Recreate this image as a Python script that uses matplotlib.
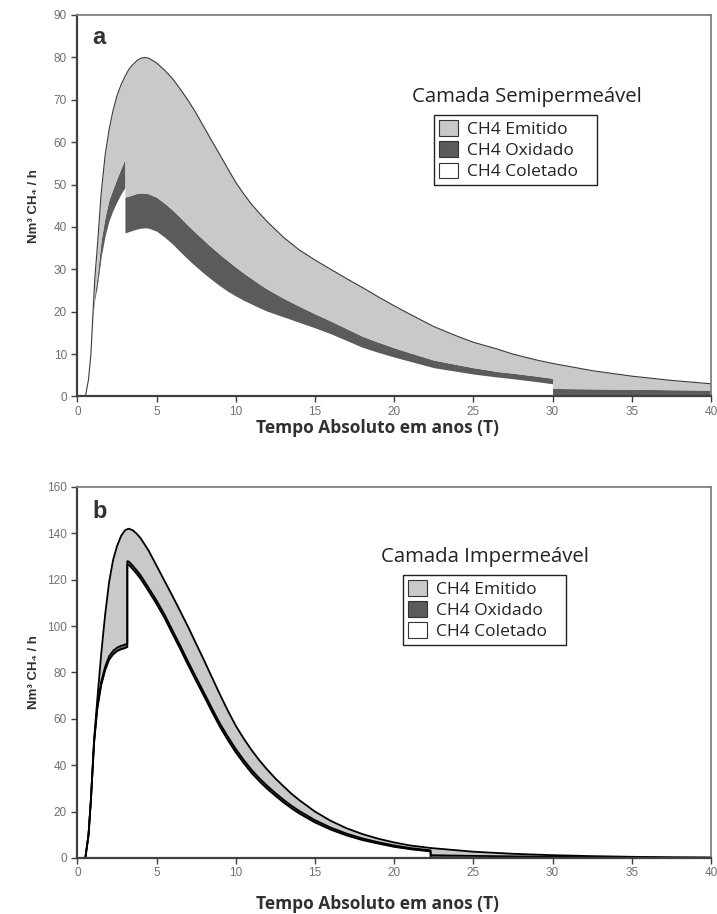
import matplotlib
matplotlib.use("Agg")
import matplotlib.pyplot as plt
from matplotlib.patches import Patch

# panel a - semipermeable cover (levels of the stacked areas, Nm3 CH4/h)
t_a = [0, 0.5, 0.7, 0.85, 1.0, 1.1, 1.25, 1.5, 1.75, 2.0,
       2.25, 2.5, 2.75, 3.0, 3.0, 3.25, 3.5, 3.75, 4.0, 4.25,
       4.5, 5, 5.5, 6, 6.5, 7, 7.5, 8, 8.5, 9,
       9.5, 10, 10.5, 11, 11.5, 12, 13, 14, 15, 16,
       17, 18, 19, 20, 21, 22.5, 24, 25, 26.5, 27.5,
       29, 30, 30, 32.5, 35, 37.5, 40]
total_a = [0, 0, 4, 10, 21, 28, 35, 48, 57, 63,
           67.5, 71, 73.5, 75.5, 75.5, 77.2, 78.3, 79.2, 79.8, 80,
           79.8, 78.7, 77, 75, 72.5, 69.8, 66.8, 63.5, 60.2, 57,
           53.7, 50.5, 47.8, 45.3, 43.2, 41.2, 37.6, 34.6, 32.2, 30.0,
           27.8, 25.7, 23.5, 21.4, 19.4, 16.5, 14.2, 12.8, 11.2, 10.0,
           8.6, 7.8, 7.8, 6.1, 4.8, 3.8, 3.0]
oxidado_a = [0, 0, 4, 10, 20.5, 24.5, 28.5, 37, 42.5, 46.5,
             49, 51.5, 53.8, 56, 47, 47.3, 47.6, 47.9, 48, 48,
             47.8, 47, 45.6, 44, 42.2, 40.3, 38.5, 36.8, 35.1, 33.5,
             32, 30.5, 29.1, 27.8, 26.5, 25.3, 23.2, 21.3, 19.5, 17.8,
             16, 14.2, 12.8, 11.5, 10.3, 8.6, 7.5, 6.8, 5.9, 5.5,
             4.8, 4.3, 1.9, 1.8, 1.7, 1.6, 1.5]
coletado_a = [0, 0, 4, 10, 20, 23, 26, 33, 38, 41.5,
              44, 46, 47.8, 49.3, 38.6, 38.9, 39.2, 39.5, 39.7, 39.8,
              39.7, 39, 37.6, 36, 34.1, 32.3, 30.6, 29, 27.5, 26.1,
              24.8, 23.7, 22.7, 21.8, 20.9, 20.1, 18.8, 17.5, 16.2, 14.8,
              13.2, 11.6, 10.4, 9.3, 8.3, 6.8, 5.9, 5.3, 4.6, 4.2,
              3.5, 3.0, 0, 0, 0, 0, 0]

# panel b - impermeable cover
t_b = [0, 0.5, 0.7, 0.85, 1.05, 1.25, 1.5, 1.75, 2.0, 2.25,
       2.5, 2.75, 3.0, 3.15, 3.15, 3.25, 3.5, 3.75, 4.0, 4.5,
       5, 5.5, 6, 6.5, 7, 7.5, 8, 8.5, 9, 9.5,
       10, 10.5, 11, 11.5, 12, 12.5, 13, 13.5, 14, 15,
       16, 17, 18, 19, 20, 21, 22.3, 22.3, 25, 27.5,
       30, 32.5, 35, 37.5, 40]
total_b = [0, 0, 10, 25, 51, 68, 88, 105, 119, 128.5,
           134.5, 138.8, 141.3, 141.8, 141.8, 142, 141.3, 139.8, 137.8, 132.5,
           126, 119.5, 113, 106.3, 99.5, 92.3, 85.2, 77.8, 70.5, 63.5,
           57, 51.5, 46.5, 42, 38, 34.3, 31, 27.8, 25, 20,
           16, 12.8, 10.3, 8.3, 6.7, 5.4, 4.3, 4.3, 2.7, 1.8,
           1.2, 0.8, 0.5, 0.3, 0.2]
oxidado_b = [0, 0, 10, 25, 50, 65, 76, 82.5, 87, 89.3,
             90.7, 91.5, 92, 92.5, 128, 127.8, 126, 124, 121.8, 116.5,
             111, 105, 98.2, 91.5, 84.5, 77.8, 71.2, 64.5, 58, 52.3,
             47, 42.3, 38, 34.3, 31, 28, 25.2, 22.6, 20.3, 16.3,
             13.1, 10.5, 8.4, 6.8, 5.4, 4.3, 3.3, 1.2, 0.9, 0.7,
             0.5, 0.35, 0.25, 0.15, 0.1]
coletado_b = [0, 0, 10, 25, 49.5, 64, 74.5, 81, 85.5, 87.8,
              89.2, 90, 90.5, 91, 126.5, 126.3, 124.5, 122.5, 120.3, 115,
              109.5, 103.5, 96.7, 90, 83, 76.3, 69.7, 63, 56.5, 50.8,
              45.5, 40.9, 36.6, 33, 29.7, 26.8, 24, 21.5, 19.2, 15.3,
              12.2, 9.7, 7.7, 6.2, 4.8, 3.8, 2.8, 0, 0, 0,
              0, 0, 0, 0, 0]

labels = ["CH4 Emitido", "CH4 Oxidado", "CH4 Coletado"]
cores = ["#c9c9c9", "#5b5b5b", "white"]

tick_font = "Liberation Sans"
txt_font = "Open Sans"

fig = plt.figure(figsize=(7.17, 9.14), dpi=100)
ax_a = fig.add_axes([0.108, 0.5662, 0.8835, 0.4174])
ax_b = fig.add_axes([0.108, 0.0613, 0.8835, 0.4059])


def draw_layers(ax, t, col, oxi, tot, lc, lw_top, lw_low):
    ax.fill_between(t, 0, col, color=cores[2], lw=0)
    ax.fill_between(t, col, oxi, color=cores[1], lw=0)
    ax.fill_between(t, oxi, tot, color=cores[0], lw=0)
    ax.plot(t, tot, color=lc, lw=lw_top)
    if lw_low > 0:
        ax.plot(t, oxi, color=lc, lw=lw_low)
        ax.plot(t, col, color=lc, lw=lw_low)


def style_axes(ax, ymax, ystep, letter, letter_y, xlab_y):
    ax.set_xlim(0, 40)
    ax.set_ylim(0, ymax)
    ax.set_xticks(range(0, 41, 5))
    ax.set_yticks(range(0, ymax + 1, ystep))
    for s in ["left", "bottom"]:
        ax.spines[s].set_color("#404040")
        ax.spines[s].set_linewidth(1.6)
    for s in ["top", "right"]:
        ax.spines[s].set_color("#808080")
        ax.spines[s].set_linewidth(1.3)
    ax.tick_params(direction="out", length=4, width=1, color="#404040",
                   labelsize=8.5, labelcolor="#707070")
    ax.tick_params(axis="x", pad=2.5)
    for lab in ax.get_xticklabels() + ax.get_yticklabels():
        lab.set_family(tick_font)
    ax.set_ylabel("Nm³ CH₄ / h", fontsize=9.5, fontweight="bold",
                  family=[tick_font, "DejaVu Sans"], color="#303030")
    ax.yaxis.set_label_coords(-0.059, 0.5)
    ax.set_xlabel("Tempo Absoluto em anos (T)", fontsize=12.5, fontweight="bold",
                  family=txt_font, color="#303030")
    ax.xaxis.set_label_coords(0.4735, xlab_y)
    ax.text(0.024, letter_y, letter, transform=ax.transAxes, fontsize=17,
            fontweight="bold", family=tick_font, color="#333333", va="center")


draw_layers(ax_a, t_a, coletado_a, oxidado_a, total_a, "#3a3a3a", 0.8, 0)
style_axes(ax_a, 90, 10, "a", 0.94, -0.06)

draw_layers(ax_b, t_b, coletado_b, oxidado_b, total_b, "black", 1.3, 1.3)
style_axes(ax_b, 160, 20, "b", 0.935, -0.10)

handles = [Patch(facecolor=c, edgecolor="#333333", linewidth=0.8) for c in cores]


def add_legend(ax, titulo, tx, ty, lx, ly):
    ax.text(tx, ty, titulo, transform=ax.transAxes, fontsize=14.7,
            family=txt_font, color="#222222", ha="center", va="center")
    # trailing spaces widen the box like the original frame
    leg = ax.legend(handles, [s + "   " for s in labels], loc="upper left",
                    bbox_to_anchor=(lx, ly),
                    borderaxespad=0, fancybox=False, framealpha=1,
                    edgecolor="#222222", prop={"family": txt_font, "size": 12.5},
                    handlelength=1.1, handleheight=1.0, handletextpad=0.5,
                    labelspacing=0.2, borderpad=0.3)
    leg.get_frame().set_linewidth(1.0)
    for t in leg.get_texts():
        t.set_color("#222222")


add_legend(ax_a, "Camada Semipermeável", 0.709, 0.786, 0.563, 0.738)
add_legend(ax_b, "Camada Impermeável", 0.644, 0.812, 0.514, 0.763)

fig.savefig("out.png", dpi=100)
